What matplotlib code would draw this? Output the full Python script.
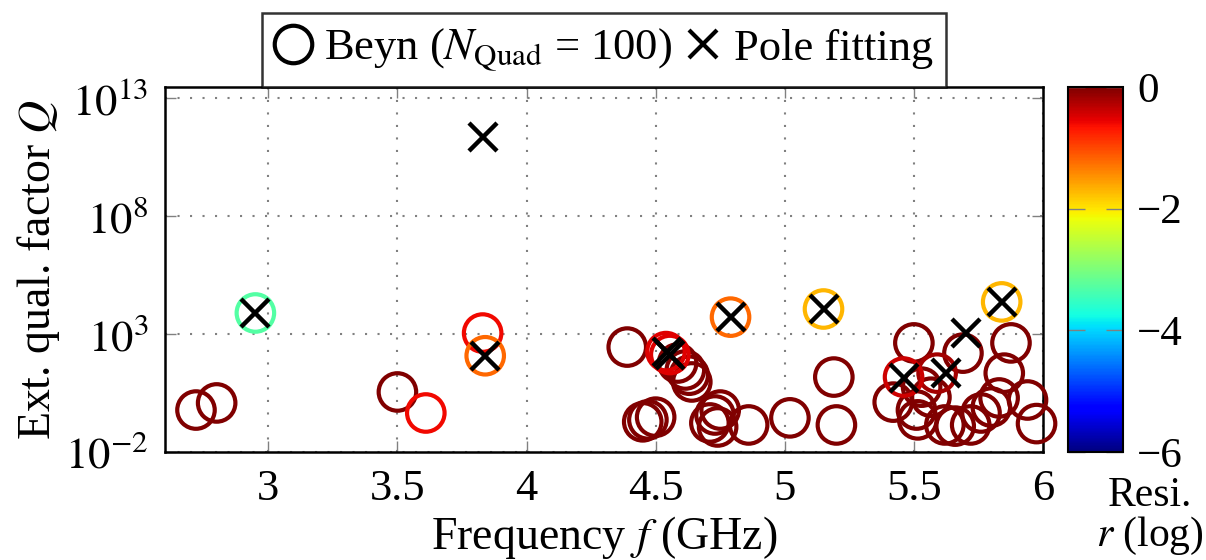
import numpy as np
import matplotlib
matplotlib.use('Agg')
import matplotlib.pyplot as plt
from matplotlib.colors import Normalize
from matplotlib.lines import Line2D
import matplotlib.cm as cm

plt.rcParams['font.family'] = ['Liberation Serif', 'DejaVu Serif']
plt.rcParams['mathtext.fontset'] = 'stix'
plt.rcParams['font.size'] = 32

# Beyn eigenvalues: frequency (GHz), ext. quality factor, log10 residual
beyn_f = [2.72, 2.80, 3.50, 4.39, 4.585, 4.615, 4.63, 4.64, 4.45, 4.47, 4.50,
          4.71, 4.73, 4.75, 4.74, 4.86, 5.02, 5.19, 5.20, 5.50, 5.42, 5.51,
          5.515, 5.566, 5.62, 5.69, 5.72, 5.76, 5.80, 5.83, 5.85, 5.876, 5.94,
          5.975, 5.66, 5.53, 5.59, 5.46,
          3.61, 3.83, 4.54, 4.555, 3.84, 4.79, 5.15, 5.84, 2.95]
beyn_q = [0.6, 1.2, 3.5, 2.8e2, 59, 30, 18, 9.3, 0.19, 0.23, 0.30,
          0.17, 0.37, 0.6, 0.115, 0.14, 0.28, 15, 0.14, 4.2e2, 1.3, 0.6,
          0.23, 2.1, 0.14, 1.55e2, 0.14, 0.45, 0.8, 1.95, 22, 4.2e2, 1.6,
          0.16, 0.125, 5.6, 22, 15,
          0.45, 1.1e3, 1.8e2, 1.35e2, 1.2e2, 5.2e3, 1.15e4, 2.3e4, 7.8e3]
beyn_r = [0, 0, 0, 0, 0, 0, 0, 0, 0, 0, 0,
          0, 0, 0, 0, 0, 0, 0, 0, 0, 0, 0,
          0, 0, 0, 0, 0, 0, 0, 0, 0, 0, 0,
          0, 0, 0, -0.2, -0.4,
          -0.6, -0.6, -0.5, -0.5, -1.2, -1.2, -1.7, -1.7, -3.3]

# pole fitting results
pf_f = [2.95, 3.83, 3.84, 4.545, 4.555, 4.79, 5.15, 5.46, 5.625, 5.70, 5.84]
pf_q = [7.8e3, 2.2e11, 1.2e2, 1.7e2, 1.3e2, 5.2e3, 1.15e4, 14, 22, 1.1e3, 2.3e4]

fig = plt.figure(figsize=(12.06, 5.6), dpi=100)
ax = fig.add_axes([165/1206, 108/560, 878/1206, 365/560])
cax = fig.add_axes([1068/1206, 108/560, 55/1206, 365/560])

norm = Normalize(vmin=-6, vmax=0)
cmap = plt.get_cmap('jet')

ax.scatter(beyn_f, beyn_q, s=27**2, facecolors='none',
           edgecolors=cmap(norm(np.array(beyn_r))), linewidths=3.0, zorder=3,
           clip_on=False)
ax.plot(pf_f, pf_q, 'x', color='black', ms=20, mew=3.2, ls='none', zorder=4)

ax.set_yscale('log')
ax.set_xlim(2.6, 6)
ax.set_ylim(1e-2, 10**13.47)
ax.set_xticks([3, 3.5, 4, 4.5, 5, 5.5, 6])
ax.set_xticklabels(['3', '3.5', '4', '4.5', '5', '5.5', '6'])
ax.set_yticks([1e-2, 1e3, 1e8, 1e13])
ax.set_yticklabels([r'$10^{-2}$', r'$10^{3}$', r'$10^{8}$', r'$10^{13}$'])
ax.minorticks_off()
ax.tick_params(direction='in', length=8, width=1, color='gray',
               top=True, right=True, pad=12)
ax.grid(True, color='gray', linestyle=(0, (1, 5)), linewidth=1.5)
for s in ax.spines.values():
    s.set_linewidth(1.8)

ax.set_xlabel(r'Frequency $f$ (GHz)', labelpad=4, fontsize=33)
ax.set_ylabel(r'Ext. qual. factor $Q$', labelpad=2, fontsize=33)

cb = fig.colorbar(cm.ScalarMappable(norm=norm, cmap=cmap), cax=cax)
cb.set_ticks([0, -2, -4, -6])
cb.set_ticklabels(['0', '\u22122', '\u22124', '\u22126'])
cax.tick_params(direction='in', length=12, width=1, color='gray', left=True,
                pad=10, labelsize=31)
cb.outline.set_linewidth(1.5)
fig.text(1150/1206, 1 - 496/560, 'Resi.', ha='center', va='center', fontsize=30)
fig.text(1150/1206, 3/560, r'$r$ (log)', ha='center', va='bottom', fontsize=30)

handles = [Line2D([], [], marker='o', mfc='none', mec='black', mew=3, ms=27, ls='none'),
           Line2D([], [], marker='x', color='black', mew=3, ms=20, ls='none')]
leg = fig.legend(handles, [r'Beyn ($N_\mathrm{Quad}$ = 100)', 'Pole fitting'],
                 loc='lower center', bbox_to_anchor=(604/1206, 1 - 87/560),
                 ncol=2, frameon=True, fancybox=False, edgecolor='black',
                 handlelength=0.8, handletextpad=0.3, columnspacing=0.3,
                 borderpad=0.3, borderaxespad=0)
leg.get_frame().set_linewidth(1.8)

fig.savefig('out.png', dpi=100)
